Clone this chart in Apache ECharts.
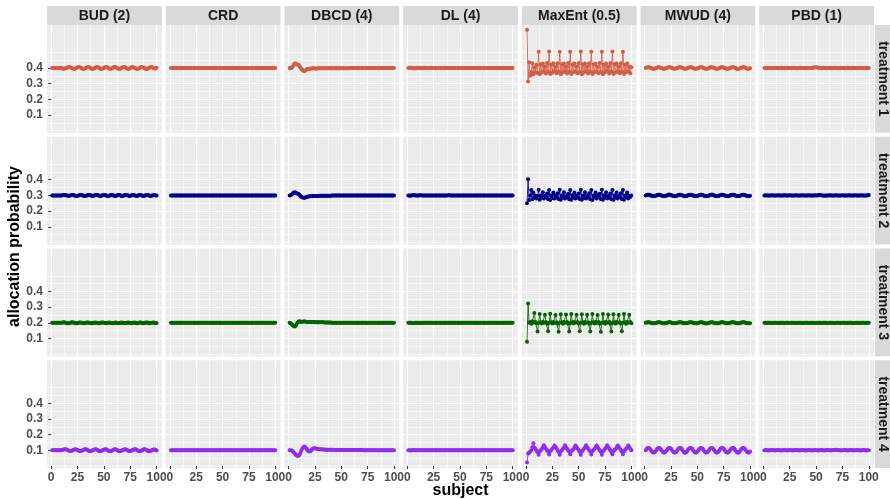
<!DOCTYPE html>
<html>
<head>
<meta charset="utf-8">
<script src="https://cdn.jsdelivr.net/npm/echarts@6/dist/echarts.min.js"></script>
<style>
html, body { margin: 0; padding: 0; background: #fff; }
#chart { width: 890px; height: 499px; }
</style>
</head>
<body>
<div id="chart"></div>
<script>
// facet labels
const methods = ['BUD (2)', 'CRD', 'DBCD (4)', 'DL (4)', 'MaxEnt (0.5)', 'MWUD (4)', 'PBD (1)'];
const treatments = ['treatment 1', 'treatment 2', 'treatment 3', 'treatment 4'];
const colors = ['#D35C45', '#00008B', '#006400', '#912CEE'];

// axis ticks
const xTicks = [0, 25, 50, 75, 100];
const xMinor = [12.5, 37.5, 62.5, 87.5];
const yTicks = [0.1, 0.2, 0.3, 0.4];
const yMinor = [0, 0.05, 0.15, 0.25, 0.35, 0.45, 0.5];

// allocation probability by subject 1..100, one array per panel
const BUD_t1 = [
  .400,.400,.400,.400,.400,.400,.400,.400,.400,.399,
  .397,.395,.396,.399,.402,.405,.406,.404,.401,.398,
  .395,.394,.396,.400,.404,.406,.405,.402,.398,.395,
  .394,.396,.400,.404,.406,.405,.401,.397,.394,.395,
  .398,.402,.405,.406,.403,.399,.395,.394,.396,.400,
  .404,.406,.405,.401,.397,.394,.395,.399,.403,.406,
  .406,.402,.398,.395,.394,.397,.401,.405,.406,.404,
  .400,.396,.394,.395,.399,.403,.406,.405,.402,.398,
  .395,.394,.396,.400,.404,.406,.405,.401,.397,.394,
  .395,.398,.402,.405,.406,.403,.399,.396,.397,.401];
const BUD_t2 = [
  .300,.300,.300,.300,.300,.300,.300,.300,.300,.300,
  .301,.302,.302,.301,.299,.298,.298,.299,.301,.302,
  .302,.300,.298,.297,.298,.300,.302,.303,.302,.300,
  .298,.297,.298,.300,.302,.303,.301,.299,.297,.298,
  .300,.302,.303,.302,.299,.297,.297,.299,.301,.303,
  .302,.300,.298,.297,.298,.301,.303,.302,.300,.298,
  .297,.299,.301,.303,.302,.300,.297,.297,.299,.302,
  .303,.301,.299,.297,.298,.300,.302,.303,.301,.298,
  .297,.298,.301,.303,.302,.300,.298,.297,.299,.301,
  .303,.302,.299,.297,.298,.300,.302,.302,.300,.299];
const BUD_t3 = [
  .200,.200,.200,.200,.200,.200,.200,.200,.200,.200,
  .202,.203,.202,.200,.198,.197,.198,.200,.202,.203,
  .202,.200,.198,.197,.198,.200,.202,.202,.201,.199,
  .198,.198,.200,.202,.202,.201,.199,.198,.198,.200,
  .201,.202,.201,.199,.198,.198,.200,.202,.202,.200,
  .199,.198,.199,.201,.202,.201,.199,.198,.199,.201,
  .202,.201,.199,.198,.199,.201,.202,.201,.199,.198,
  .199,.201,.202,.201,.199,.198,.199,.201,.202,.200,
  .198,.198,.200,.202,.202,.200,.198,.198,.200,.202,
  .202,.200,.198,.198,.200,.201,.202,.200,.199,.199];
const BUD_t4 = [
  .100,.100,.100,.100,.100,.100,.100,.100,.100,.101,
  .103,.105,.107,.106,.103,.100,.097,.095,.096,.099,
  .102,.105,.106,.105,.102,.098,.095,.095,.097,.100,
  .103,.106,.106,.104,.100,.096,.094,.095,.098,.102,
  .105,.106,.105,.101,.097,.094,.095,.097,.101,.104,
  .106,.106,.103,.099,.095,.094,.096,.100,.103,.106,
  .106,.104,.100,.096,.094,.095,.098,.102,.105,.106,
  .105,.101,.097,.094,.095,.097,.101,.104,.106,.106,
  .103,.099,.095,.094,.096,.099,.103,.106,.106,.104,
  .100,.096,.094,.095,.098,.102,.105,.105,.103,.099];

const CRD_t1 = [
  .4,.4,.4,.4,.4,.4,.4,.4,.4,.4, .4,.4,.4,.4,.4,.4,.4,.4,.4,.4,
  .4,.4,.4,.4,.4,.4,.4,.4,.4,.4, .4,.4,.4,.4,.4,.4,.4,.4,.4,.4,
  .4,.4,.4,.4,.4,.4,.4,.4,.4,.4, .4,.4,.4,.4,.4,.4,.4,.4,.4,.4,
  .4,.4,.4,.4,.4,.4,.4,.4,.4,.4, .4,.4,.4,.4,.4,.4,.4,.4,.4,.4,
  .4,.4,.4,.4,.4,.4,.4,.4,.4,.4, .4,.4,.4,.4,.4,.4,.4,.4,.4,.4];
const CRD_t2 = [
  .3,.3,.3,.3,.3,.3,.3,.3,.3,.3, .3,.3,.3,.3,.3,.3,.3,.3,.3,.3,
  .3,.3,.3,.3,.3,.3,.3,.3,.3,.3, .3,.3,.3,.3,.3,.3,.3,.3,.3,.3,
  .3,.3,.3,.3,.3,.3,.3,.3,.3,.3, .3,.3,.3,.3,.3,.3,.3,.3,.3,.3,
  .3,.3,.3,.3,.3,.3,.3,.3,.3,.3, .3,.3,.3,.3,.3,.3,.3,.3,.3,.3,
  .3,.3,.3,.3,.3,.3,.3,.3,.3,.3, .3,.3,.3,.3,.3,.3,.3,.3,.3,.3];
const CRD_t3 = [
  .2,.2,.2,.2,.2,.2,.2,.2,.2,.2, .2,.2,.2,.2,.2,.2,.2,.2,.2,.2,
  .2,.2,.2,.2,.2,.2,.2,.2,.2,.2, .2,.2,.2,.2,.2,.2,.2,.2,.2,.2,
  .2,.2,.2,.2,.2,.2,.2,.2,.2,.2, .2,.2,.2,.2,.2,.2,.2,.2,.2,.2,
  .2,.2,.2,.2,.2,.2,.2,.2,.2,.2, .2,.2,.2,.2,.2,.2,.2,.2,.2,.2,
  .2,.2,.2,.2,.2,.2,.2,.2,.2,.2, .2,.2,.2,.2,.2,.2,.2,.2,.2,.2];
const CRD_t4 = [
  .1,.1,.1,.1,.1,.1,.1,.1,.1,.1, .1,.1,.1,.1,.1,.1,.1,.1,.1,.1,
  .1,.1,.1,.1,.1,.1,.1,.1,.1,.1, .1,.1,.1,.1,.1,.1,.1,.1,.1,.1,
  .1,.1,.1,.1,.1,.1,.1,.1,.1,.1, .1,.1,.1,.1,.1,.1,.1,.1,.1,.1,
  .1,.1,.1,.1,.1,.1,.1,.1,.1,.1, .1,.1,.1,.1,.1,.1,.1,.1,.1,.1,
  .1,.1,.1,.1,.1,.1,.1,.1,.1,.1, .1,.1,.1,.1,.1,.1,.1,.1,.1,.1];

const DBCD_t1 = [
  .400,.398,.402,.410,.420,.428,.427,.422,.420,.415,
  .405,.395,.388,.383,.381,.384,.390,.394,.395,.395,
  .396,.397,.398,.398,.397,.397,.397,.398,.398,.398,
  .398,.398,.398,.398,.398,.398,.398,.398,.399,.399,
  .399,.399,.399,.399,.399,.399,.399,.399,.399,.399,
  .399,.399,.399,.399,.399,.399,.399,.399,.400,.400,
  .400,.400,.400,.400,.400,.400,.400,.400,.400,.400,
  .400,.400,.400,.400,.400,.400,.400,.400,.400,.400,
  .400,.400,.400,.400,.400,.400,.400,.400,.400,.400,
  .400,.400,.400,.400,.400,.400,.400,.400,.400,.400];
const DBCD_t2 = [
  .300,.302,.306,.312,.318,.320,.316,.312,.310,.305,
  .298,.292,.288,.285,.285,.287,.290,.292,.293,.294,
  .295,.296,.296,.297,.297,.297,.297,.297,.298,.298,
  .298,.298,.298,.298,.298,.298,.298,.298,.298,.298,
  .299,.299,.299,.299,.299,.299,.299,.299,.299,.299,
  .299,.299,.299,.299,.299,.299,.299,.299,.299,.299,
  .299,.299,.299,.299,.299,.299,.299,.299,.299,.299,
  .300,.300,.300,.300,.300,.300,.300,.300,.300,.300,
  .300,.300,.300,.300,.300,.300,.300,.300,.300,.300,
  .300,.300,.300,.300,.300,.300,.300,.300,.300,.300];
const DBCD_t3 = [
  .200,.198,.193,.185,.178,.176,.185,.197,.206,.210,
  .208,.206,.207,.208,.209,.208,.206,.205,.205,.205,
  .206,.206,.205,.205,.204,.204,.204,.204,.203,.203,
  .203,.203,.203,.202,.202,.202,.202,.202,.202,.202,
  .201,.201,.201,.201,.201,.201,.201,.201,.201,.201,
  .201,.201,.201,.201,.201,.201,.200,.200,.200,.200,
  .200,.200,.200,.200,.200,.200,.200,.200,.200,.200,
  .200,.200,.200,.200,.200,.200,.200,.200,.200,.200,
  .200,.200,.200,.200,.200,.200,.200,.200,.200,.200,
  .200,.200,.200,.200,.200,.200,.200,.200,.200,.200];
const DBCD_t4 = [
  .100,.100,.099,.094,.086,.078,.070,.066,.064,.068,
  .080,.095,.110,.120,.124,.120,.110,.100,.094,.092,
  .096,.103,.110,.113,.113,.111,.109,.107,.106,.106,
  .106,.105,.105,.105,.104,.104,.104,.104,.103,.103,
  .103,.103,.103,.102,.102,.102,.102,.102,.102,.102,
  .101,.101,.101,.101,.101,.101,.101,.101,.101,.101,
  .101,.101,.101,.101,.101,.101,.101,.101,.101,.101,
  .100,.100,.100,.100,.100,.100,.100,.100,.100,.100,
  .100,.100,.100,.100,.100,.100,.100,.100,.100,.100,
  .100,.100,.100,.100,.100,.100,.100,.100,.100,.100];

const DL_t1 = [
  .400,.401,.402,.401,.400,.399,.398,.399,.400,.401,
  .401,.400,.399,.399,.400,.401,.401,.400,.400,.400,
  .400,.400,.401,.401,.400,.400,.400,.400,.400,.400,
  .400,.400,.400,.400,.400,.400,.401,.400,.400,.400,
  .400,.400,.400,.400,.400,.400,.400,.400,.400,.400,
  .400,.400,.400,.400,.400,.400,.400,.400,.400,.400,
  .400,.400,.400,.400,.400,.400,.400,.400,.400,.400,
  .400,.400,.400,.400,.400,.400,.400,.400,.400,.400,
  .400,.400,.400,.400,.400,.400,.400,.400,.400,.400,
  .400,.400,.400,.400,.400,.400,.400,.400,.400,.400];
const DL_t2 = [
  .300,.299,.298,.299,.301,.302,.301,.300,.299,.299,
  .300,.301,.301,.300,.300,.299,.300,.300,.300,.300,
  .300,.300,.300,.300,.300,.300,.300,.300,.300,.300,
  .300,.300,.300,.300,.300,.300,.300,.300,.301,.301,
  .300,.300,.300,.300,.300,.300,.300,.300,.300,.300,
  .300,.300,.300,.300,.300,.300,.300,.300,.300,.300,
  .300,.300,.300,.300,.300,.300,.300,.300,.300,.300,
  .300,.300,.300,.300,.300,.300,.300,.300,.300,.300,
  .300,.300,.300,.300,.300,.300,.300,.300,.300,.300,
  .300,.300,.300,.300,.300,.300,.300,.300,.300,.300];
const DL_t3 = [
  .200,.200,.200,.200,.199,.199,.201,.201,.200,.200,
  .200,.199,.200,.200,.201,.200,.200,.200,.200,.200,
  .200,.200,.200,.200,.200,.200,.200,.200,.200,.200,
  .200,.200,.200,.200,.200,.200,.200,.200,.200,.200,
  .200,.200,.200,.200,.200,.200,.200,.200,.200,.200,
  .200,.200,.200,.200,.200,.200,.200,.200,.200,.200,
  .200,.200,.200,.200,.200,.200,.200,.200,.200,.200,
  .200,.200,.200,.200,.200,.200,.200,.200,.200,.200,
  .200,.200,.200,.200,.200,.200,.200,.200,.200,.200,
  .200,.200,.200,.200,.200,.200,.200,.200,.200,.200];
const DL_t4 = [
  .100,.100,.099,.100,.100,.101,.100,.100,.100,.100,
  .100,.100,.100,.100,.100,.100,.100,.100,.100,.100,
  .100,.100,.100,.100,.100,.100,.100,.100,.100,.100,
  .100,.100,.100,.100,.100,.100,.100,.100,.100,.100,
  .100,.100,.100,.100,.100,.100,.100,.100,.100,.100,
  .100,.100,.100,.100,.100,.100,.100,.100,.100,.100,
  .100,.100,.100,.100,.100,.100,.100,.100,.100,.100,
  .100,.100,.100,.100,.100,.100,.100,.100,.100,.100,
  .100,.100,.100,.100,.100,.100,.100,.100,.100,.100,
  .100,.100,.100,.100,.100,.100,.100,.100,.100,.100];

const MaxEnt_t1 = [
  .644,.313,.436,.350,.372,.430,.358,.405,.372,.420,.368,
  .504,.360,.422,.372,.428,.378,.410,.365,.432,.375,
  .505,.362,.420,.370,.430,.380,.408,.366,.430,.376,
  .503,.360,.424,.372,.428,.378,.410,.364,.432,.376,
  .504,.361,.421,.373,.429,.377,.409,.366,.431,.374,
  .505,.360,.423,.371,.428,.379,.410,.365,.430,.377,
  .503,.362,.422,.372,.427,.378,.408,.366,.432,.375,
  .504,.360,.421,.373,.429,.380,.409,.364,.431,.376,
  .505,.361,.423,.371,.428,.378,.410,.366,.430,.377,
  .503,.362,.420,.372,.428,.379,.409,.366,.405];
const MaxEnt_t2 = [
  .250,.403,.270,.300,.335,.275,.318,.283,.300,.280,.296,
  .336,.272,.300,.285,.320,.280,.298,.288,.312,.276,
  .335,.271,.301,.284,.318,.281,.299,.287,.313,.277,
  .336,.272,.300,.286,.320,.280,.297,.288,.311,.276,
  .334,.273,.301,.285,.319,.281,.298,.287,.312,.277,
  .336,.272,.299,.285,.320,.280,.298,.289,.313,.276,
  .335,.271,.300,.286,.318,.281,.299,.288,.311,.277,
  .336,.273,.301,.285,.320,.280,.298,.287,.312,.276,
  .334,.272,.300,.286,.319,.281,.297,.288,.313,.277,
  .335,.272,.300,.286,.318,.281,.298,.290,.300];
const MaxEnt_t3 = [
  .080,.324,.200,.205,.195,.210,.200,.262,.205,.198,
  .145,.200,.256,.204,.196,.205,.200,.252,.205,.195,
  .146,.201,.258,.203,.196,.206,.199,.250,.204,.194,
  .144,.200,.255,.204,.195,.205,.200,.253,.206,.195,
  .145,.199,.257,.203,.197,.205,.201,.251,.205,.196,
  .146,.200,.254,.204,.195,.206,.200,.252,.204,.195,
  .145,.201,.256,.203,.196,.205,.199,.250,.205,.194,
  .144,.200,.257,.204,.195,.206,.200,.253,.206,.195,
  .145,.199,.255,.203,.196,.205,.201,.251,.204,.196,
  .146,.200,.256,.204,.195,.205,.200,.252,.205,.198];
const MaxEnt_t4 = [
  .022,.080,.085,.090,.100,.120,.145,.118,.108,.098,.088,
  .072,.092,.100,.108,.118,.132,.120,.110,.100,.090,
  .073,.093,.101,.109,.117,.131,.121,.111,.099,.089,
  .072,.092,.100,.108,.118,.132,.120,.110,.100,.090,
  .074,.093,.101,.107,.118,.130,.121,.110,.101,.089,
  .072,.092,.100,.109,.117,.132,.120,.111,.100,.090,
  .073,.093,.101,.108,.118,.131,.121,.110,.099,.090,
  .072,.092,.100,.109,.118,.132,.120,.110,.100,.089,
  .074,.093,.101,.108,.117,.130,.121,.111,.101,.090,
  .074,.093,.101,.109,.118,.131,.121,.110,.100];

const MWUD_t1 = [
  .400,.403,.405,.405,.403,.400,.397,.395,.395,.397,
  .400,.403,.405,.405,.402,.400,.397,.395,.395,.398,
  .400,.403,.405,.405,.403,.400,.397,.395,.396,.397,
  .400,.403,.406,.405,.403,.400,.397,.395,.395,.397,
  .401,.403,.405,.405,.403,.400,.397,.395,.395,.397,
  .400,.403,.405,.404,.403,.400,.397,.395,.395,.397,
  .400,.404,.405,.405,.403,.400,.396,.395,.395,.397,
  .400,.403,.405,.405,.403,.399,.397,.395,.395,.397,
  .400,.403,.405,.405,.403,.400,.397,.394,.395,.397,
  .400,.403,.405,.405,.403,.400,.397,.395,.395,.398];
const MWUD_t2 = [
  .300,.303,.304,.304,.303,.300,.297,.296,.296,.297,
  .300,.303,.304,.304,.302,.300,.297,.296,.296,.298,
  .300,.303,.305,.304,.303,.300,.297,.296,.296,.297,
  .300,.303,.304,.304,.303,.300,.297,.295,.296,.297,
  .301,.303,.304,.304,.303,.300,.297,.296,.296,.297,
  .300,.303,.304,.304,.303,.299,.297,.296,.296,.297,
  .300,.303,.304,.305,.303,.300,.297,.296,.296,.297,
  .300,.303,.304,.304,.303,.300,.297,.296,.295,.297,
  .300,.302,.304,.304,.303,.300,.297,.296,.296,.297,
  .300,.303,.304,.304,.303,.300,.297,.296,.296,.298];
const MWUD_t3 = [
  .200,.202,.203,.203,.202,.200,.198,.197,.197,.198,
  .200,.202,.203,.203,.202,.200,.198,.197,.197,.198,
  .200,.202,.203,.203,.202,.200,.198,.197,.197,.199,
  .200,.202,.203,.203,.202,.200,.198,.197,.197,.198,
  .200,.202,.204,.203,.202,.200,.198,.197,.197,.198,
  .200,.202,.203,.203,.202,.200,.198,.196,.197,.198,
  .200,.202,.203,.203,.202,.200,.198,.197,.197,.198,
  .201,.202,.203,.203,.202,.200,.198,.197,.197,.198,
  .200,.202,.203,.203,.202,.200,.198,.197,.197,.198,
  .200,.202,.203,.203,.202,.200,.198,.197,.197,.198];
const MWUD_t4 = [
  .100,.109,.114,.114,.109,.100,.091,.086,.086,.091,
  .100,.109,.114,.114,.108,.100,.091,.086,.086,.092,
  .100,.109,.115,.114,.109,.100,.091,.086,.086,.091,
  .100,.109,.114,.114,.109,.100,.091,.085,.086,.091,
  .101,.109,.114,.114,.109,.100,.091,.086,.086,.091,
  .100,.109,.114,.113,.109,.100,.091,.086,.086,.091,
  .100,.110,.114,.114,.109,.100,.090,.086,.086,.091,
  .100,.109,.114,.114,.109,.099,.091,.086,.086,.091,
  .100,.109,.114,.114,.109,.100,.091,.086,.085,.091,
  .100,.109,.114,.114,.109,.100,.091,.086,.086,.092];

const PBD_t1 = [
  .400,.400,.399,.400,.401,.400,.400,.399,.400,.400,
  .400,.401,.400,.399,.400,.400,.401,.400,.400,.399,
  .400,.400,.401,.400,.400,.399,.400,.400,.401,.400,
  .400,.399,.400,.400,.401,.400,.400,.400,.399,.400,
  .400,.400,.400,.400,.400,.401,.402,.403,.404,.404,
  .403,.402,.401,.400,.399,.400,.401,.400,.400,.399,
  .400,.400,.401,.400,.399,.400,.400,.401,.400,.400,
  .399,.400,.400,.401,.400,.400,.399,.400,.400,.401,
  .400,.400,.399,.400,.401,.400,.400,.400,.399,.400,
  .400,.401,.400,.400,.399,.400,.400,.401,.400,.400];
const PBD_t2 = [
  .300,.300,.301,.300,.299,.300,.300,.301,.300,.300,
  .299,.300,.300,.301,.300,.300,.299,.300,.300,.301,
  .300,.300,.299,.300,.301,.300,.300,.299,.300,.300,
  .301,.300,.300,.299,.300,.300,.301,.300,.300,.299,
  .300,.300,.301,.300,.300,.299,.300,.300,.301,.300,
  .300,.301,.302,.302,.301,.300,.299,.298,.299,.300,
  .300,.300,.301,.300,.300,.299,.300,.300,.301,.300,
  .300,.299,.300,.300,.301,.300,.300,.299,.300,.300,
  .301,.300,.300,.299,.300,.300,.301,.300,.300,.299,
  .300,.300,.301,.300,.300,.299,.300,.300,.301,.302];
const PBD_t3 = [
  .200,.200,.199,.200,.201,.200,.200,.199,.200,.200,
  .201,.200,.200,.199,.200,.200,.201,.200,.200,.199,
  .200,.201,.200,.200,.199,.200,.200,.201,.200,.200,
  .199,.200,.200,.201,.200,.200,.199,.200,.200,.201,
  .200,.200,.199,.200,.200,.201,.200,.200,.199,.200,
  .200,.201,.200,.200,.199,.200,.200,.201,.200,.200,
  .199,.200,.200,.201,.200,.200,.199,.200,.200,.201,
  .200,.200,.199,.200,.200,.201,.200,.200,.199,.200,
  .200,.201,.200,.200,.199,.199,.200,.201,.200,.200,
  .199,.200,.200,.201,.200,.200,.199,.200,.200,.200];
const PBD_t4 = [
  .100,.100,.101,.100,.099,.100,.100,.101,.100,.100,
  .099,.100,.100,.101,.100,.100,.099,.100,.100,.101,
  .100,.100,.099,.100,.101,.100,.100,.099,.100,.100,
  .101,.100,.100,.099,.100,.100,.101,.100,.100,.099,
  .100,.100,.101,.100,.100,.099,.100,.100,.101,.100,
  .100,.099,.100,.100,.101,.100,.100,.099,.100,.100,
  .101,.100,.100,.099,.100,.101,.102,.103,.103,.102,
  .101,.100,.100,.099,.100,.100,.101,.100,.100,.099,
  .100,.100,.101,.100,.100,.099,.100,.100,.101,.100,
  .100,.099,.100,.100,.101,.100,.100,.099,.100,.100];

// panel lookup: [treatment][method]
const panelData = [
  [BUD_t1, CRD_t1, DBCD_t1, DL_t1, MaxEnt_t1, MWUD_t1, PBD_t1],
  [BUD_t2, CRD_t2, DBCD_t2, DL_t2, MaxEnt_t2, MWUD_t2, PBD_t2],
  [BUD_t3, CRD_t3, DBCD_t3, DL_t3, MaxEnt_t3, MWUD_t3, PBD_t3],
  [BUD_t4, CRD_t4, DBCD_t4, DL_t4, MaxEnt_t4, MWUD_t4, PBD_t4]
];

const chart = echarts.init(document.getElementById('chart'));

const FONT = '"Liberation Sans", Arial, sans-serif';
const panelLeft = 47, panelW = 114.8, colStep = 118.7;
const panelTop = 25, panelH = 107.75, rowStep = 111.75;
const stripTop = 6, stripH = 19;
const xMin = -3.95, xMax = 104.95;
const yMin = -0.013, yMax = 0.674;

let grids = [], xAxes = [], yAxes = [], series = [], graphics = [];

for (let r = 0; r < treatments.length; r++) {
    for (let c = 0; c < methods.length; c++) {
        const g = grids.length;
        grids.push({
            left: panelLeft + c * colStep,
            top: panelTop + r * rowStep,
            width: panelW,
            height: panelH,
            show: true,
            backgroundColor: '#EBEBEB',
            borderWidth: 0,
            outerBoundsMode: 'none'
        });
        // major x
        xAxes.push({
            gridIndex: g, type: 'value', min: xMin, max: xMax, position: 'bottom',
            axisLine: {show: false},
            axisTick: {show: r === 3, customValues: xTicks, length: 3, lineStyle: {color: '#333333'}},
            axisLabel: {show: r === 3, customValues: xTicks, margin: 4, color: '#4D4D4D',
                fontWeight: 'bold', fontSize: 12, fontFamily: FONT},
            splitLine: {show: true, lineStyle: {color: '#FFFFFF', width: 1.2}}
        });
        // minor x
        xAxes.push({
            gridIndex: g, type: 'value', min: xMin, max: xMax, position: 'top',
            axisLine: {show: false},
            axisTick: {show: false, customValues: xMinor},
            axisLabel: {show: false, customValues: xMinor},
            splitLine: {show: true, lineStyle: {color: '#FFFFFF', width: 0.6}}
        });
        // major y
        yAxes.push({
            gridIndex: g, type: 'value', min: yMin, max: yMax, position: 'left',
            axisLine: {show: false},
            axisTick: {show: c === 0, customValues: yTicks, length: 3, lineStyle: {color: '#333333'}},
            axisLabel: {show: c === 0, customValues: yTicks, margin: 4, color: '#4D4D4D',
                fontWeight: 'bold', fontSize: 12, fontFamily: FONT},
            splitLine: {show: true, lineStyle: {color: '#FFFFFF', width: 1.2}}
        });
        // minor y
        yAxes.push({
            gridIndex: g, type: 'value', min: yMin, max: yMax, position: 'right',
            axisLine: {show: false},
            axisTick: {show: false, customValues: yMinor},
            axisLabel: {show: false, customValues: yMinor},
            splitLine: {show: true, lineStyle: {color: '#FFFFFF', width: 0.6}}
        });

        const vals = panelData[r][c];
        series.push({
            type: 'line',
            xAxisIndex: 2 * g,
            yAxisIndex: 2 * g,
            data: vals.map((v, i) => [i + 1, v]),
            symbol: 'circle',
            symbolSize: 4,
            showSymbol: true,
            showAllSymbol: true,
            silent: true,
            animation: false,
            lineStyle: {width: 1, color: colors[r], opacity: 0.85},
            itemStyle: {color: colors[r]}
        });
    }
}

// strips along the top
methods.forEach((m, c) => {
    const x = panelLeft + c * colStep;
    graphics.push({type: 'rect', shape: {x: x, y: stripTop, width: panelW, height: stripH},
        style: {fill: '#D9D9D9'}, silent: true});
    graphics.push({type: 'text', x: x + panelW / 2, y: stripTop + stripH / 2 + 0.5,
        style: {text: m, fill: '#1A1A1A', font: 'bold 14px ' + FONT, align: 'center', verticalAlign: 'middle'},
        silent: true});
});

// strips on the right
const stripX = panelLeft + 6 * colStep + panelW + 1;
treatments.forEach((t, r) => {
    const y = panelTop + r * rowStep;
    graphics.push({type: 'rect', shape: {x: stripX, y: y, width: 890 - stripX, height: panelH},
        style: {fill: '#D9D9D9'}, silent: true});
    graphics.push({type: 'text', x: stripX + 8, y: y + panelH / 2, rotation: -Math.PI / 2,
        style: {text: t, fill: '#1A1A1A', font: 'bold 14px ' + FONT, align: 'center', verticalAlign: 'middle'},
        silent: true});
});

// axis titles
graphics.push({type: 'text', x: 15, y: panelTop + (4 * rowStep - 4) / 2, rotation: Math.PI / 2,
    style: {text: 'allocation probability', fill: '#000000', font: 'bold 16px ' + FONT,
        align: 'center', verticalAlign: 'middle'}, silent: true});
graphics.push({type: 'text', x: panelLeft + (6 * colStep + panelW) / 2, y: 491,
    style: {text: 'subject', fill: '#000000', font: 'bold 16px ' + FONT,
        align: 'center', verticalAlign: 'middle'}, silent: true});

chart.setOption({
    animation: false,
    backgroundColor: '#FFFFFF',
    grid: grids,
    xAxis: xAxes,
    yAxis: yAxes,
    series: series,
    graphic: {elements: graphics}
});
</script>
</body>
</html>
